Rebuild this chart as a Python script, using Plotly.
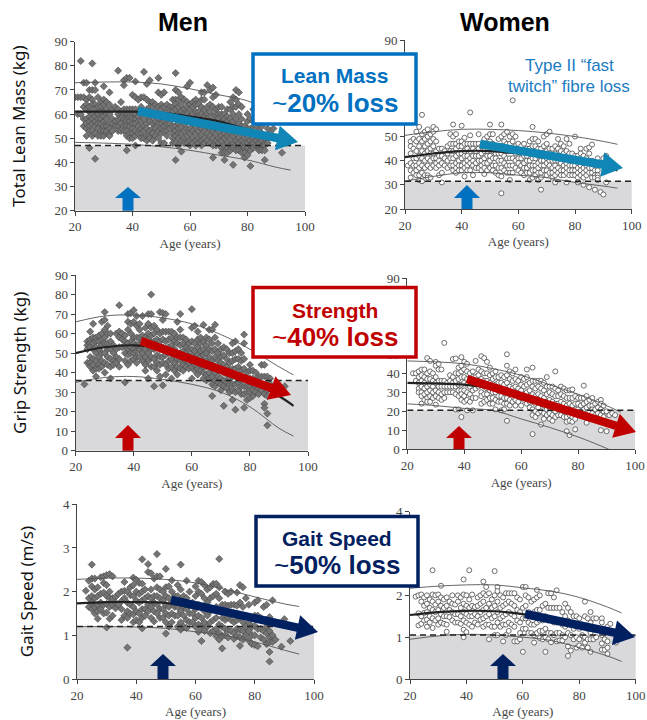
import plotly.graph_objects as go

men_lean = {20:[67],21:[67,60],22:[82,67,60],23:[73,67,63,58,55],24:[73,66,64,62,58,56,54,51],25:[70,67,63,61,59,57,55,53,46],26:[81,70,66,64,60,58,56,53,51],27:[73,70,64,62,59,57,55,52,41.5],28:[67,63,60,58,56,54,51],29:[65,63,61,58,56,53,51],30:[71.5,66,64,61,59,57,55,53,51],31:[65,62,60,58,55,52,53],32:[69,64,60,56,54,52,51],33:[62,58,56,53],34:[63,57,55],35:[78,62,60,58,55,53],36:[65,61,58,56,53],37:[74,72,62,60,58,55,53],38:[75,62,60,58,57,55,53,51,45],39:[75,62,60,57,55,52,50],40:[68,62,60,58,56,54,52,50],41:[73.5,67,62,60,58,56,53,51,47],42:[66,61,59,57,55,52],43:[67,63,60,57,54,52,50],44:[77.5,67,61,58,55,53,50],45:[72.5,66,62,60,56,54,51,49],46:[74,65,63,58,57,53,51,50],47:[65,63,60,56,54,52,49],48:[64,61,59,57,54,51],49:[75,69,63,60,58,56,53,50],50:[68,64,62,59,56,54,52,48],51:[69,63,60,57,55,53,48],52:[64,61,58,56,53,51],53:[63,61,59,56,54],54:[66,63,61,58,55,52,50,48],55:[77,70,66,64,62,58,55,53,51,48,41],56:[69,66,63,60,56,54,52,50,47],57:[67,64,61,58,55,52,49,44.5],58:[66,62,60,56,53,50,48],59:[71.5,65,63,60,57,54,51,48],60:[73,64,62,59,57,54,52,49,47],61:[65,63,60,56,53,50,48],62:[66,64,61,58,55,52,49,47],63:[64,61,59,56,53,50,48],64:[69,66,63,60,57,54,51,49,47],65:[69,66,62,59,56,53,50,48],66:[72,63,60,58,55,52,49],67:[70,64,61,57,54,51,48],68:[71,67,63,59,56,53,50,47,42],69:[68,62,60,57,54,52,49,47],70:[63,60,58,55,53,50,48],71:[63,60,57,54,51,49,46,44],72:[60,58,55,52,50,47,44,41],73:[62,59,57,54,51,48,46,44],74:[65,62,58,55,52,50,47,45],75:[67,63,60,57,54,51,48,46,39],76:[70,66,63,58,55,52,49,47,45],77:[69,64,60,56,53,50,48,45],78:[63,58,55,52,49,47,45,44],79:[55,52,50,48,46,44,42],80:[60,57,54,51,48,46,43],81:[58,54,52,49,47,45,38.5],82:[62,57,54,50,48,46],83:[58,54,51,49,47],84:[56,53,50,48,46,45],85:[55,52,49,47,45],86:[50,48,47,45,41],87:[54,50,48],88:[57,52],89:[54],92:[44]}
women_lean = {21:[38],22:[48,46,43,39,36,33],23:[49,45,41,38,35],24:[52,48,44,41,38,36,34],25:[54,49,46,42,39,37,34,32],26:[59,51,48,44,41,38,35,31.5],27:[52,49,46,43,40,37,34],28:[53,50,47,44,41,38,34,33],29:[51,48,45,43,40,37,33],30:[54,52,49,46,43,41,38],31:[53,48,44,41,39,37],32:[45,42,40,38,34],33:[45,42,39,35,31],34:[44,41,38],35:[46,43,40,37],36:[51,47,44,41,38],37:[55,50,47,44,41,38,36],38:[51,47,45,42,39,37,35],39:[48,46,43,40,38,36],40:[54.5,48,46,43,41,38,36],41:[49.5,47,44,42,39,37,33.5],42:[47,45,42,40,38,36],43:[60,50.5,47,44,41,39,36],44:[47,45,42,40,38,34],45:[47,44,42,39,37],46:[51,47,45,42,40,37],47:[46,43,40,38,36],48:[49,46,44,41,39,37,34.5],49:[50,47,44,42,39,36],50:[55,51,48,45,42,40,37],51:[51,47,44,41,38,36],52:[46,43,41,38,35],53:[49,46,43,40,37,34],54:[55,50,46,43,40,37,33.5,26.5],55:[51,48,45,42,39,36],56:[52,47,44,41,38,35],57:[50,47,44,41,38,35,32],58:[65,51,48,44,41,38,35],59:[50,46,43,40,37],60:[47,44,41,39,36],61:[46,43,41,38,35],62:[47,44,42,39,37,34],63:[45,42,40,37,35],64:[48,45,43,40,38,35,32],65:[54,49,46,43,41,38,36,33],66:[49,46,43,41,38,36,34],67:[48,45,42,39,37,35,32],68:[45,43,40,38,35,33,28],69:[50,46,43,40,38,36],70:[51,47,44,41,39,36,34],71:[52,45,43,40,38,35],72:[45,42,40,37,35,33],73:[46,43,40,38,36,34,31],74:[49,45,42,40,37,35],75:[47,44,41,39,36,34],76:[46,43,41,38,36,34],77:[49,44,41,39,37,35,31],78:[47,43,40,38,36,34],79:[43,40,38,36,34],80:[50,42,40,38,36,34],81:[42,39,37,35,33,31],82:[45,43,40,38,36,34],83:[42,39,37,35,33,30],84:[45,41,38,36,34],85:[45.5,43,40,37,35,29],86:[46.7,40,37,35,33],87:[38,36,34,33,28],88:[41,38,36,34,33,32],89:[27],90:[41,26],91:[42,31]}
men_grip = {23:[34],24:[56,54,52,45],25:[61,57,55,53,48,45,43],26:[65,58,55,52,47,44,41],27:[58,56,53,50,46,42,38],28:[59,56,52,48,44,42],29:[66,60,57,54,50,46,43],30:[71,67,62,58,55,50,45,40],31:[64,60,55,52,48,44],32:[60,56,52,47,43,37],33:[54,50,46,44],34:[60,52,48,45],35:[74.5,61,58,53,47,43],36:[60,57,53],37:[59,56,54,50,46,35],38:[70,66,62,55,52,49,44],39:[70.5,65,60,56,53,50,46],40:[72,66,58,55,52,50,47],41:[69,64,58,54,51,48,45],42:[65,62,58,55,52,48],43:[69,59,56,53,50,46],44:[63,58,55,52,48,44,41],45:[70,65,60,57,54,50,46,37],46:[80,70,63,59,55,52,48,43],47:[64,60,56,52,47,43,33],48:[62,57,53,49,45,41],49:[71,60,56,52,48,44,38],50:[70.5,67,61,57,53,48,45,33.5],51:[70,61,56,52,49,44,39],52:[61,57,53,50,46,42],53:[61,58,54,50,47,43,37],54:[60,56,52,49,45,41],55:[66,58,55,50,47,43,39],56:[70,62,58,54,50,46,42],57:[58,55,51,47,44,41],58:[57,53,50,46,43],59:[55,52,48,45,42],60:[72.5,63,56,52,49,46,43,37],61:[64,55,51,47,44,41],62:[61,57,53,49,46,42,39],63:[58,55,51,48,44,41],64:[64.5,56,52,49,46,43,40,37],65:[58,54,50,46,43,39,36],66:[62,57,52,48,44,40,37],67:[62,55,51,46,42,38,34,28],68:[64.5,58,52,48,43,40,36,33],69:[55,50,46,42,38,35],70:[52,48,45,41,37,34,31],71:[53,49,44,40,36,33,23],72:[52,47,43,39,35,32],73:[50,45,41,37,34,30],74:[55,50,46,42,38,34,31,26],75:[56,51,47,42,38,34,30,21],76:[52,47,43,38,35,31],77:[50,46,41,36,33,29],78:[59.5,55,47,42,37,33,29,22],79:[40,36,33,30,26],80:[44,41,37,33,30,27],81:[41,37,34,31,28],82:[40,36,33,30],83:[38,35,32,29],84:[44,38,34,31],85:[44,38,33,29,24,22],86:[38,35,31,28,19,13],87:[37,34],92:[33]}
women_grip = {22:[40],23:[40,36],24:[41,38,35,32,30],25:[42,39,36,33,30,28,24],26:[42,38,35,32,29,26],27:[48,40,37,33,30,27,25],28:[46.5,41,37,34,31,28,25],29:[40,36,33,30,27],30:[46,44,38,35,31,28,23.5],31:[45,42,36,33,30,27],32:[42,36,33,29,26],33:[56,36,33,30,27],34:[35,33,30],35:[39,36,33,30],36:[47.5,38,35,33,30],37:[47.8,40,36,33,29,21],38:[43,40,37,34,31,28,21],39:[48.5,44,41,38,34,31,29,26,17],40:[46,42,38,35,31,28,25],41:[45,41,37,34,30,26,20.5],42:[40,37,33,29,25],43:[41,38,35,31,27,20.5],44:[46.5,38,35,32,27],45:[42,39,36,33],46:[49,41,37,34,30,28,24],47:[48,40,36,33,29,25],48:[46,40,36,32,29,26],49:[43,39,35,31,27,24],50:[40,37,33,30,27,24],51:[41,38,34,30,26,21],52:[38,35,31,28,25],53:[39,35,32,28,25,20.5],54:[38,34,31,27,24,21],55:[50,44,39,35,31,27,24,15],56:[41,37,33,29,26,23],57:[40,36,32,29,25],58:[42,37,33,29,26,23],59:[36,32,28,25],60:[38,34,31,27,23],61:[37,33,29,26],62:[42,38,34,30,27,24],63:[35,31,28,25,22],64:[43,36,33,29,25,21,18,8],65:[36,32,28,24,20,17],66:[36,33,29,26,22,19],67:[36,32,28,24,20,13],68:[35,31,27,23,19,16],69:[38,33,29,25,21,18],70:[33,30,26,22,19,16],71:[33,29,25,22,18,15],72:[41,32,28,24,20,17],73:[31,28,24,21,18],74:[33,29,25,21,18],75:[32,28,24,20,17],76:[31,27,23,20,17,14.5,9.5],77:[31,27,24,20,18,15,7.5],78:[31.5,27,23,20,17,14.5],79:[28,24,21,18,16,10.5],80:[27,24,21,18],81:[27,23,20,18],82:[33.5,27,24,21,18],83:[28,25,22,19,14],84:[26,23,20],85:[27,23,21,19],86:[24,21,18],87:[25,22,19],88:[26,24,21,18,10],89:[23,20,17],90:[20,9.5],91:[18],92:[19],93:[18]}
men_gait = {23:[2.02],24:[2.25,1.85,1.65],25:[2.62,2.3,2.12,1.9,1.75,1.6],26:[2.3,2.05,1.85,1.65,1.5],27:[2.1,1.9,1.7,1.55,1.38],28:[2.33,1.95,1.75,1.6],29:[2.35,2.2,1.98,1.7,1.5],30:[2.38,2.15,1.9,1.72,1.52,1.18],31:[2.4,2,1.85,1.65,1.38],32:[2.35,1.85,1.7,1.45],33:[1.88,1.75,1.62],34:[1.95,1.7],35:[2,1.78,1.6,1.35],36:[2.22,2.02,1.85,1.45],37:[2,1.75,1.55,1.4,0.72],38:[2.1,1.92,1.7,1.5],39:[2.32,2.15,1.9,1.65,1.48,1.3],40:[2.27,2,1.8,1.55,1.35],41:[2.2,1.95,1.75,1.5,1.3],42:[2.74,2.18,2,1.8,1.6,1.4,1.16],43:[2.05,1.85,1.6,1.45],44:[2.63,2.45,1.9,1.7,1.55],45:[2.42,2.05,1.85,1.65,1.4],46:[2.3,1.9,1.75,1.55,1.32],47:[2.86,2.35,2.1,1.9,1.7,1.5],48:[2.35,2.05,1.85,1.6,1.4],49:[2,1.8,1.6,1.4],50:[2.52,2.1,1.9,1.7,1.5,1.3,1.04],51:[2.12,1.85,1.65,1.45,1.2],52:[2.26,2,1.75,1.5,1.3],53:[1.9,1.65,1.45],54:[2.15,1.9,1.65,1.45,1.2],55:[2.62,2.05,1.8,1.55,1.3,1.13],56:[1.9,1.65,1.45,1.2],57:[2.25,1.85,1.6,1.35,1.17],58:[2,1.7,1.5,1.3],59:[1.75,1.5,1.3],60:[2.12,1.9,1.6,1.4,1.2],61:[2.25,2,1.7,1.45,1.25,1.08],62:[2.22,1.95,1.65,1.4,1.2,0.87],63:[2.15,1.85,1.55,1.3,1.1],64:[2.05,1.75,1.45,1.2],65:[2.1,1.85,1.55,1.3,1.05],66:[2.18,1.9,1.6,1.35,1.1],67:[2.18,1.95,1.65,1.4,1.15,0.98],68:[2.75,2.1,1.85,1.55,1.25,1.05,0.9],69:[1.7,1.4,1.2,0.98,0.7],70:[2,1.7,1.35,1.15,1],71:[1.95,1.68,1.4,1.12,0.95],72:[2,1.7,1.35,1.1],73:[1.7,1.3,1.05,0.92],74:[1.98,1.68,1.35,1.15,0.98],75:[2.15,1.75,1.4,1.12,0.95,0.76],76:[2.1,1.65,1.3,1.1,0.9],77:[1.85,1.45,1.2,1],78:[1.7,1.3,1.1,0.88],79:[1.4,1.2,1,0.8],80:[1.75,1.45,1.22,1,0.78],81:[1.8,1.45,1.15,0.75],82:[1.4,1.15,0.95],83:[1.65,1.35,1.1,0.9],84:[1.7,1.2,1.05,0.8],85:[1.42,1.1,0.95,0.85,0.62,0.4],86:[1.8,1,0.85],87:[0.9],89:[0.74],90:[1.37],92:[0.87]}
women_gait = {22:[1.97],23:[2,1.57,1.28],24:[2.02,1.85,1.5,1.32],25:[1.95,1.75,1.58,1.4],26:[2,1.8,1.6,1.42,1.25],27:[1.9,1.7,1.5,1.35],28:[2.6,2.02,1.85,1.65,1.45,1.22],29:[2,1.78,1.6,1.4],30:[2.02,1.85,1.65,1.45,1.3],31:[2.23,1.95,1.75,1.55,1.35],32:[1.9,1.7,1.5,1.32],33:[1.95,1.75,1.5,1.3,1.13],34:[1.85,1.65,1.48],35:[2,1.8,1.6,1.4],36:[1.78,1.55,1.35],37:[2,1.85,1.55,1.35],38:[1.95,1.7,1.5,1.32],39:[2.38,2.02,1.8,1.6,1.4,1.18,1],40:[2,1.75,1.55,1.35,1.12],41:[2.6,1.9,1.7,1.5,1.3],42:[2.02,1.75,1.5,1.25],43:[1.72,1.55,1.35],44:[1.95,1.75,1.5,1.3],45:[2,1.8,1.6,1.42],46:[2.33,2.05,1.85,1.65,1.45,1.25],47:[2.2,2,1.7,1.5,1.3],48:[2.05,1.8,1.55,1.3,0.95],49:[1.9,1.7,1.45,1.25],50:[2.58,2,1.75,1.5,1.25,1.05],51:[2.2,2.1,1.85,1.6,1.35,1.05],52:[2,1.7,1.45,1.25],53:[1.95,1.75,1.5,1.3,0.9],54:[2.05,1.8,1.55,1.3,1.05],55:[2.05,1.85,1.6,1.35,1.15],56:[2.05,1.8,1.55,1.3],57:[2.05,1.75,1.5,1.25,0.9],58:[1.95,1.65,1.4,0.9],59:[1.9,1.6,1.35,1.1,0.95],60:[2.2,1.7,1.45,1.2,0.65],61:[2.2,2,1.75,1.45,1.2],62:[1.95,1.6,1.35,1.1],63:[1.85,1.55,1.3,1.1],64:[1.9,1.6,1.3,1.05,0.87],65:[2.13,1.95,1.65,1.35,1.1],66:[2,1.65,1.4,1.15,0.98],67:[1.75,1.4,1.15,0.95],68:[1.8,1.5,1.2,1,0.65],69:[2.05,1.7,1.4,1.1,0.95],70:[2.05,1.7,1.4,1.1,0.88],71:[1.95,1.7,1.35,1.05],72:[2.12,1.7,1.35,1.1,0.9],73:[1.7,1.4,1.1,0.92],74:[1.6,1.3,1.05,0.92],75:[1.8,1.5,1.25,1],76:[1.7,1.4,1.1,0.78,0.55],77:[1.6,1.3,1.05,0.68],78:[1.5,1.2,0.95],79:[1.5,1.25,1,0.75],80:[1.45,1.2,0.95,0.8],81:[1.3,1.05,0.75],82:[1.85,1.5,1.25,1,0.87],83:[1.45,1.2,0.95,0.75],84:[1.6,1.35,1.1,0.95,0.65],85:[1.45,1.2,0.95],86:[1.45,1.2,1],88:[1.45,1.35,1.05,0.85,0.7],89:[1.2,0.95,0.7],90:[1.25,0.9,0.75,0.6],91:[1.32],93:[0.87]}

curve_ages = [20,30,40,50,60,70,80,90,95]
men_lean_curves = ([73,73.3,73.3,72.5,70.5,68,65.5,60,57],[61,61,61,60.5,59,57,53.5,49,47],[48.3,48,47.5,46.5,45,43,41,38,36.8])
women_lean_curves = ([50.5,52,53,53,52.5,51.5,50,48,46.8],[41.5,43,44,44,43,41.5,39.5,37.5,36],[31.5,33.5,35,35,34,33,31,29.5,28.6])
men_grip_curves = ([66,69,69.5,68,65,59.5,52,43,38.8],[50,53,54,52.5,48,43,36,28,23],[35,37.5,38,36.5,34,30,22.5,11.5,7.5])
women_grip_curves = ([46.5,46,45,42.5,39,34,29,23,19.5],[35,34.7,34,32,28.5,23.5,18.5,13.5,11],[23.9,23,21.5,20.5,16,11.5,6.5,0.5,-3])
men_gait_curves = ([2.28,2.31,2.31,2.28,2.2,2.05,1.88,1.72,1.66],[1.73,1.76,1.76,1.74,1.62,1.5,1.37,1.24,1.18],[1.2,1.2,1.19,1.16,1.08,1,0.85,0.66,0.57])
women_gait_curves = ([2.17,2.22,2.25,2.25,2.18,2.1,1.95,1.72,1.58],[1.53,1.6,1.63,1.62,1.55,1.43,1.28,1.15,1.07],[0.95,1.03,1.07,1.05,1,0.92,0.75,0.55,0.42])

thresholds = [47, 31.5, 36, 20.5, 1.2, 1.05]
x_ticks = [20,40,60,80,100]
lean_ticks = [20,30,40,50,60,70,80,90]
grip_ticks = [0,10,20,30,40,50,60,70,80,90]
gait_ticks = [0,1,2,3,4]
y_titles = ["Total Lean Mass (kg)", None, "Grip Strength (kg)", None, "Gait Speed (m/s)", None]

W, H = 647, 720
BLUE, RED, NAVY, TEAL = "#0070c0", "#c00000", "#002060", "#0f86b5"
SERIF = "Liberation Serif"
SANS = "Liberation Sans"

panels = [
    dict(pts=men_lean, cur=men_lean_curves, px=(75,305), py=(41.7,210.7), yr=(20,90), t=lean_ticks, men=True),
    dict(pts=women_lean, cur=women_lean_curves, px=(405,631.7), py=(40,209), yr=(20,90), t=lean_ticks, men=False),
    dict(pts=men_grip, cur=men_grip_curves, px=(75.7,308), py=(275,450.7), yr=(0,90), t=grip_ticks, men=True),
    dict(pts=women_grip, cur=women_grip_curves, px=(407.3,635), py=(278.3,449.3), yr=(0,90), t=grip_ticks, men=False),
    dict(pts=men_gait, cur=men_gait_curves, px=(77,314), py=(504.3,679), yr=(0,4), t=gait_ticks, men=True),
    dict(pts=women_gait, cur=women_gait_curves, px=(410,635.7), py=(511.7,679), yr=(0,4), t=gait_ticks, men=False),
]

fig = go.Figure()
layout = {}
shapes = []
for i, p in enumerate(panels, 1):
    s = "" if i == 1 else str(i)
    xs = [a for a, v in p["pts"].items() for _ in v]
    ys = [y for v in p["pts"].values() for y in v]
    xa, ya = f"x{s}", f"y{s}"
    thr = thresholds[i-1]
    shapes.append(dict(type="rect", xref=xa, yref=ya, x0=20, x1=100.5, y0=p["yr"][0], y1=thr,
                       fillcolor="#d9d9dc", line_width=0, layer="below"))
    if p["men"]:
        marker = dict(symbol="diamond", size=5.5, color="#747474", line=dict(color="#444444", width=0.6))
    else:
        marker = dict(symbol="circle", size=5, color="#ffffff", line=dict(color="#4a4a4a", width=0.8))
    fig.add_trace(go.Scatter(x=xs, y=ys, mode="markers", marker=marker, xaxis=xa, yaxis=ya, showlegend=False))
    for k, c in enumerate(p["cur"]):
        fig.add_trace(go.Scatter(x=curve_ages, y=c, mode="lines", xaxis=xa, yaxis=ya, showlegend=False,
                                 line=dict(color="#222222" if k == 1 else "#555555", width=2.2 if k == 1 else 0.9, shape="spline")))
    fig.add_trace(go.Scatter(x=[20,100], y=[thr,thr], mode="lines", xaxis=xa, yaxis=ya, showlegend=False,
                             line=dict(color="#222222", width=1.5, dash="6px,4px")))
    layout[f"xaxis{s}"] = dict(domain=[p["px"][0]/W, p["px"][1]/W], range=[20,100], anchor=ya, tickvals=x_ticks, automargin=False,
        ticks="outside", ticklen=4, tickwidth=1, tickcolor="#444", showline=True, linecolor="#444", linewidth=1,
        showgrid=False, zeroline=False, tickfont=dict(family=SERIF, size=13, color="#444"),
        title=dict(text="Age (years)", standoff=5, font=dict(family=SERIF, size=13, color="#444")))
    yt = dict(text=y_titles[i-1], standoff=24, font=dict(family="Noto Sans", size=17, color="#111")) if y_titles[i-1] else None
    layout[f"yaxis{s}"] = dict(domain=[1-p["py"][1]/H, 1-p["py"][0]/H], range=list(p["yr"]), anchor=xa, tickvals=p["t"], automargin=False,
        ticks="outside", ticklen=4, tickwidth=1, tickcolor="#444", showline=True, linecolor="#444", linewidth=1,
        showgrid=False, zeroline=False, tickfont=dict(family=SERIF, size=13, color="#444"), title=yt)

def P(x, y):
    return f"{x/W:.5f},{1-y/H:.5f}"

def poly(pts, color):
    d = "M" + " L".join(P(x, y) for x, y in pts) + " Z"
    shapes.append(dict(type="path", xref="paper", yref="paper", path=d, fillcolor=color, line_width=0, layer="above"))

def slanted(x0, y0, x1, y1, color, sw=8.5, hw=25, hl=21):
    L = ((x1-x0)**2 + (y1-y0)**2)**0.5
    ux, uy = (x1-x0)/L, (y1-y0)/L
    nx, ny = -uy, ux
    bx, by = x1-ux*hl, y1-uy*hl
    poly([(x0+nx*sw/2,y0+ny*sw/2),(bx+nx*sw/2,by+ny*sw/2),(bx+nx*hw/2,by+ny*hw/2),(x1,y1),
          (bx-nx*hw/2,by-ny*hw/2),(bx-nx*sw/2,by-ny*sw/2),(x0-nx*sw/2,y0-ny*sw/2)], color)

def up(cx, tip, head, base, color):
    poly([(cx-5.5,base),(cx-5.5,head),(cx-13,head),(cx,tip),(cx+13,head),(cx+5.5,head),(cx+5.5,base)], color)

for a in [(128,187,198,210.7,BLUE),(467,185,198,209,BLUE),(128,425,438,450.7,RED),(459,426,438,449.3,RED),
          (163,654,666,679,NAVY),(503,654,666,679,NAVY)]:
    up(*a)
for a in [(138,111,298,142,TEAL),(480,144,623,168,TEAL),(141,341,291,395,RED),(467,379,636,432,RED),
          (171,600,318,632,NAVY),(525,614,635,637,NAVY)]:
    slanted(*a)

annotations = []
def text(x, y, t, size, color, bold=False):
    if bold:
        t = f"<b>{t}</b>"
    annotations.append(dict(xref="paper", yref="paper", x=x/W, y=1-y/H, text=t, showarrow=False,
                            xanchor="center", yanchor="middle", font=dict(family=SANS, size=size, color=color)))

for x0, y0, x1, y1, c, t1, t2, ty1, ty2 in [
    (253,54,416,124,BLUE,"Lean Mass","20% loss",76,103),
    (253,287.5,416,357,RED,"Strength","40% loss",310,337),
    (256,516.5,418,586,NAVY,"Gait Speed","50% loss",538,565)]:
    shapes.append(dict(type="rect", xref="paper", yref="paper", x0=x0/W, x1=x1/W, y0=1-y1/H, y1=1-y0/H,
                       fillcolor="#ffffff", line=dict(color=c, width=3.5), layer="above"))
    text((x0+x1)/2, ty1, t1, 21, c, True)
    text((x0+x1)/2, ty2, f"~<b>{t2}</b>", 26, c)

text(183, 22, "Men", 25, "#000000", True)
text(505, 22, "Women", 25, "#000000", True)
text(569, 65, "Type II “fast", 17, "#1a7cc4")
text(569, 86, "twitch” fibre loss", 17, "#1a7cc4")

fig.update_layout(width=W, height=H, margin=dict(l=0, r=0, t=0, b=0), autosize=False, showlegend=False,
                  paper_bgcolor="#ffffff", plot_bgcolor="#ffffff", shapes=shapes, annotations=annotations, **layout)
fig.write_html("out.html", config={"displayModeBar": False},
               post_script="document.body.style.margin='0';document.documentElement.style.overflow='hidden';")
